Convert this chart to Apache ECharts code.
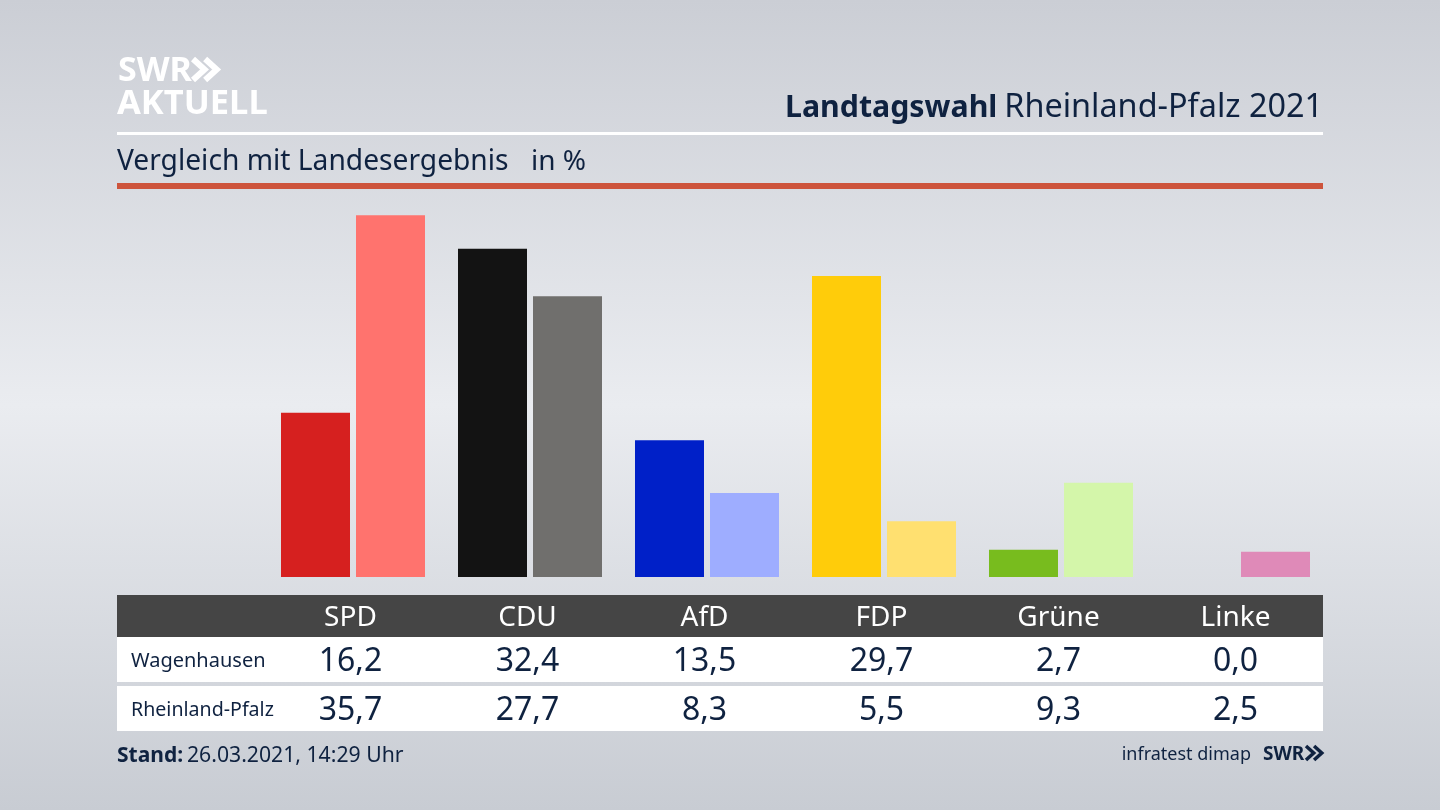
<!DOCTYPE html>
<html lang="de">

<head>
    <meta charset="UTF-8">
    <title>Landtagswahl Rheinland-Pfalz 2021</title>
    <script src="https://cdn.jsdelivr.net/npm/echarts@6/dist/echarts.min.js"></script>
    <style>
        html, body { margin: 0; padding: 0; }
        #chart { width: 1440px; height: 810px; }
    </style>
</head>

<body>
    <div id="chart"></div>
    <script>
        const parties = ['SPD', 'CDU', 'AfD', 'FDP', 'Grüne', 'Linke'];
        const wagenhausen = [16.2, 32.4, 13.5, 29.7, 2.7, 0.0];
        const rheinlandPfalz = [35.7, 27.7, 8.3, 5.5, 9.3, 2.5];
        const darkColors = ['#d6201f', '#131313', '#0020c8', '#ffcc0a', '#78bc1e', '#b0408a'];
        const lightColors = ['#ff736e', '#706f6d', '#9eadff', '#ffe070', '#d4f6aa', '#df8ab8'];

        const fontName = '"Noto Sans", sans-serif';
        const ink = '#0f2240';

        const fmt = v => v.toFixed(1).replace('.', ',');

        const chart = echarts.init(document.getElementById('chart'));

        function label(x, y, text, size, opts) {
            return {
                type: 'text',
                x: x,
                y: y,
                z: 10,
                style: Object.assign({
                    text: text,
                    font: size + 'px ' + fontName,
                    fill: ink,
                    align: 'left',
                    verticalAlign: 'middle'
                }, opts || {})
            };
        }

        function box(x, y, w, h, fill) {
            return { type: 'rect', z: 1, shape: { x: x, y: y, width: w, height: h }, style: { fill: fill } };
        }

        function chevrons(x, y, h, color, width) {
            const w = h * 0.55;
            return [0, 1].map(i => ({
                type: 'polyline',
                z: 10,
                shape: { points: [[x + i * w * 1.05, y], [x + i * w * 1.05 + w, y + h / 2], [x + i * w * 1.05, y + h]] },
                style: { stroke: color, lineWidth: width, fill: null }
            }));
        }

        chart.setOption({
            animation: false,
            backgroundColor: new echarts.graphic.LinearGradient(0, 0, 0, 1, [
                { offset: 0, color: '#cbced5' },
                { offset: 0.5, color: '#eaecf0' },
                { offset: 1, color: '#c8ccd3' }
            ]),
            grid: { left: 264.5, right: 113.5, top: 192, height: 385 },
            xAxis: {
                type: 'category',
                data: parties,
                axisLine: { show: false },
                axisTick: { show: false },
                axisLabel: { show: false }
            },
            yAxis: {
                type: 'value',
                min: 0,
                max: 38,
                show: false,
                splitLine: { show: false }
            },
            series: [
                {
                    name: 'Wagenhausen',
                    type: 'bar',
                    barWidth: 69,
                    barGap: '8.7%',
                    data: wagenhausen.map((v, i) => ({ value: v, itemStyle: { color: darkColors[i] } }))
                },
                {
                    name: 'Rheinland-Pfalz',
                    type: 'bar',
                    barWidth: 69,
                    data: rheinlandPfalz.map((v, i) => ({ value: v, itemStyle: { color: lightColors[i] } }))
                }
            ]
        });

        // Kopf, Tabelle und Fußzeile
        const els = [
            box(117, 132, 1206, 3, '#ffffff'),
            box(117, 183, 1206, 6, '#cd543c'),
            box(117, 595, 1206, 42, '#454545'),
            box(117, 637, 1206, 45, '#ffffff'),
            box(117, 686, 1206, 45, '#ffffff'),
            label(118, 71, 'SWR', 34, { fill: '#ffffff', font: 'bold 34px ' + fontName }),
            label(117, 104, 'AKTUELL', 34.5, { fill: '#ffffff', font: 'bold 34.5px ' + fontName }),
            label(785, 108, 'Landtagswahl', 30.3, { font: 'bold 30.3px ' + fontName }),
            label(1323, 108, 'Rheinland-Pfalz 2021', 32.4, { align: 'right' }),
            label(117, 162, 'Vergleich mit Landesergebnis', 28.2),
            label(531, 162, 'in %', 28),
            label(131, 661, 'Wagenhausen', 20),
            label(131, 710, 'Rheinland-Pfalz', 19.6),
            label(117, 756, 'Stand:', 21, { font: 'bold 21px ' + fontName }),
            label(187, 756, '26.03.2021, 14:29 Uhr', 21.2),
            label(1251, 755, 'infratest dimap', 18, { align: 'right' }),
            label(1263, 755, 'SWR', 19, { font: 'bold 19px ' + fontName })
        ].concat(chevrons(193, 59, 21, '#ffffff', 6), chevrons(1306, 746, 14, ink, 3.5));

        parties.forEach((p, i) => {
            // die Tabellenspalten sitzen 2,5 px links von der Balkenmitte
            const x = chart.convertToPixel({ xAxisIndex: 0 }, p) - 2.5;
            els.push(label(x, 618, p, 28, { fill: '#ffffff', align: 'center' }));
            els.push(label(x, 662, fmt(wagenhausen[i]), 32, { align: 'center' }));
            els.push(label(x, 711, fmt(rheinlandPfalz[i]), 32, { align: 'center' }));
        });

        chart.setOption({ graphic: { elements: els } });
    </script>
</body>

</html>
